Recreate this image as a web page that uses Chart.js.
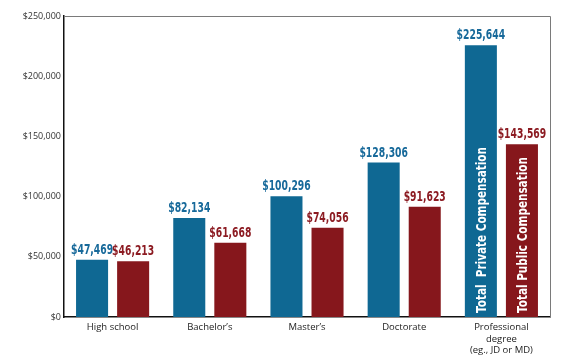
<!DOCTYPE html>
<html>
<head>
<meta charset="utf-8">
<script src="https://cdn.jsdelivr.net/npm/chart.js@4"></script>
<style>
  html, body { margin: 0; padding: 0; background: #fff; }
  #wrap { width: 562px; height: 360px; position: relative; }
</style>
</head>
<body>
<div id="wrap"><canvas id="chart"></canvas></div>
<script>
const categories = ["High school", "Bachelor’s", "Master’s", "Doctorate", ["Professional", "degree", "(eg., JD or MD)"]];
const privateComp = [47469, 82134, 100296, 128306, 225644];
const publicComp = [46213, 61668, 74056, 91623, 143569];
const seriesNames = ["Total  Private Compensation", "Total Public Compensation"];
const yTicks = [0, 50000, 100000, 150000, 200000, 250000];

const BLUE = "#0f6893";
const RED = "#86171c";
const LABEL_FONT = "'DejaVu Sans', sans-serif";

function fmtMoney(v) {
  return "$" + v.toLocaleString("en-US");
}

// value labels above bars + rotated series names inside the last pair
// no condensed bold font installed, so squeeze the text horizontally
const barLabels = {
  id: "barLabels",
  afterDatasetsDraw(chart) {
    const c = chart.ctx;
    const textColors = ["#17699a", "#8c1b22"];
    chart.data.datasets.forEach((ds, di) => {
      const meta = chart.getDatasetMeta(di);
      meta.data.forEach((bar, i) => {
        c.save();
        c.translate(bar.x, bar.y - 6);
        c.scale(0.66, 1);
        c.font = "bold 14px " + LABEL_FONT;
        c.fillStyle = textColors[di];
        c.textAlign = "center";
        c.textBaseline = "alphabetic";
        c.fillText(fmtMoney(ds.data[i]), 0, 0);
        c.restore();
      });
      // series name inside last bar
      const last = meta.data[meta.data.length - 1];
      c.save();
      c.translate(last.x + 1, last.base - 4);
      c.rotate(-Math.PI / 2);
      c.scale(0.72, 1);
      c.font = "bold 14.5px " + LABEL_FONT;
      c.fillStyle = "#ffffff";
      c.textAlign = "left";
      c.textBaseline = "middle";
      c.fillText(seriesNames[di], 0, 0);
      c.restore();
    });
  }
};

// grey top/right frame lines
const frame = {
  id: "frame",
  afterDraw(chart) {
    const a = chart.chartArea;
    const c = chart.ctx;
    c.save();
    c.strokeStyle = "#7a7a7a";
    c.lineWidth = 1;
    c.beginPath();
    c.moveTo(a.left, a.top + 0.5);
    c.lineTo(a.right + 0.5, a.top + 0.5);
    c.lineTo(a.right + 0.5, a.bottom);
    c.stroke();
    c.restore();
  }
};

new Chart(document.getElementById("chart"), {
  type: "bar",
  data: {
    labels: categories,
    datasets: [
      { label: seriesNames[0], data: privateComp, backgroundColor: BLUE },
      { label: seriesNames[1], data: publicComp, backgroundColor: RED }
    ]
  },
  options: {
    responsive: true,
    maintainAspectRatio: false,
    animation: false,
    categoryPercentage: 0.845,
    barPercentage: 0.78,
    layout: { padding: { top: 16, right: 12, bottom: 0, left: 0 } },
    plugins: {
      legend: { display: false },
      tooltip: { enabled: false }
    },
    scales: {
      x: {
        grid: { display: false, drawTicks: false },
        border: { color: "#111", width: 1.5 },
        ticks: {
          color: "#222",
          font: { family: "'Open Sans', 'DejaVu Sans', sans-serif", size: 9.5 },
          padding: 5,
          maxRotation: 0,
          autoSkip: false
        },
        afterFit(scale) { scale.height = 43; }
      },
      y: {
        min: 0,
        max: 250000,
        afterBuildTicks(scale) { scale.ticks = yTicks.map(v => ({ value: v })); },
        grid: { display: false, drawTicks: false },
        border: { color: "#111", width: 1.5 },
        ticks: {
          color: "#333",
          font: { family: "'Open Sans', 'DejaVu Sans', sans-serif", size: 9 },
          padding: 3,
          callback: v => fmtMoney(v)
        },
        afterFit(scale) { scale.width = 64; }
      }
    }
  },
  plugins: [barLabels, frame]
});
</script>
</body>
</html>
